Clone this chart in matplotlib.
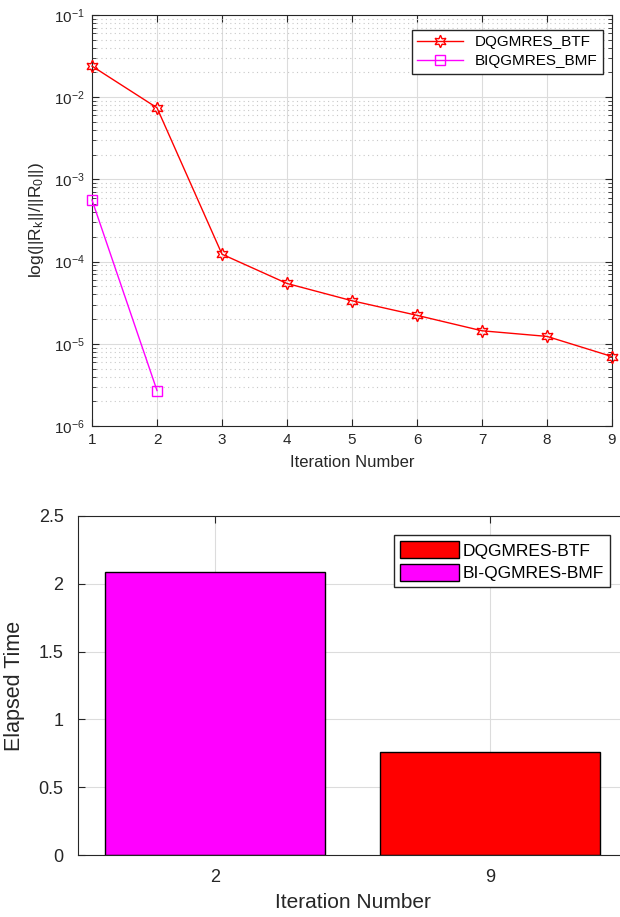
import numpy as np
import matplotlib.pyplot as plt
from matplotlib.ticker import LogLocator, NullFormatter

plt.rcParams['font.family'] = ['Liberation Sans', 'DejaVu Sans']
plt.rcParams['mathtext.fontset'] = 'custom'
plt.rcParams['mathtext.rm'] = 'Liberation Sans'
plt.rcParams['mathtext.it'] = 'Liberation Sans'
plt.rcParams['mathtext.default'] = 'regular'

# residual history
iters_dq = [1, 2, 3, 4, 5, 6, 7, 8, 9]
res_dq = [0.0239, 0.00743, 1.23e-4, 5.42e-5, 3.34e-5, 2.22e-5, 1.44e-5, 1.23e-5, 7.0e-6]
iters_bi = [1, 2]
res_bi = [5.62e-4, 2.7e-6]

# elapsed time
bar_labels = ['2', '9']
bar_times = [2.09, 0.76]
bar_colors = ['#ff00ff', '#ff0000']

fig = plt.figure(figsize=(6.2, 9.17), dpi=100)
W, H = 620, 917
txt = '#262626'

# top plot
ax1 = fig.add_axes([92 / W, 1 - 426 / H, (612 - 92) / W, (426 - 15) / H])
ax1.plot(iters_dq, res_dq, color='red', lw=1, marker=(6, 1, 0), ms=9,
         mfc='none', mec='red', mew=1, label='DQGMRES_BTF', clip_on=False, zorder=3)
ax1.plot(iters_bi, res_bi, color='#ff00ff', lw=1, marker='s', ms=6.5,
         mfc='none', mec='#ff00ff', mew=1, label='BIQGMRES_BMF', clip_on=False, zorder=3)
ax1.set_yscale('log')
ax1.set_xlim(1, 9)
ax1.set_ylim(1e-6, 1e-1)
ax1.set_xticks(range(1, 10))
ax1.yaxis.set_major_locator(LogLocator(base=10, numticks=10))
ax1.yaxis.set_minor_locator(LogLocator(base=10, subs=np.arange(2, 10), numticks=20))
ax1.yaxis.set_minor_formatter(NullFormatter())
ax1.grid(True, which='major', color='#dcdcdc', lw=0.8)
ax1.grid(True, which='minor', axis='y', color='#c8c8c8', lw=0.8, ls=(0, (1, 3)))
ax1.set_axisbelow(True)
ax1.tick_params(which='both', direction='in', top=True, right=True,
                labelsize=11, colors=txt)
ax1.tick_params(which='major', length=5, pad=5)
ax1.tick_params(which='minor', length=3)
for s in ax1.spines.values():
    s.set_color(txt)
ax1.set_xlabel('Iteration Number', fontsize=12, color=txt, labelpad=6)
ax1.set_ylabel(r'log(||R$_k$||/||R$_0$||)', fontsize=12.5, color=txt, labelpad=6)
ax1.legend(loc='upper right', bbox_to_anchor=(0.983, 0.964), borderaxespad=0,
           fontsize=11, fancybox=False, framealpha=1, edgecolor=txt,
           handlelength=3, borderpad=0.35, labelspacing=0.35)

# bottom plot
x = np.arange(1, len(bar_labels) + 1)
ax2 = fig.add_axes([77.5 / W, 1 - 855 / H, (627.5 - 77.5) / W, (855 - 516) / H])
bars = ax2.bar(x, bar_times, width=0.8, color=bar_colors, edgecolor='black', lw=1)
ax2.set_xlim(0.5, 2.5)
ax2.set_ylim(0, 2.5)
ax2.set_xticks(x)
ax2.set_xticklabels(bar_labels)
ax2.set_yticks(np.arange(0, 2.51, 0.5))
ax2.set_yticklabels(['0', '0.5', '1', '1.5', '2', '2.5'])
ax2.grid(True, color='#dcdcdc', lw=0.8)
ax2.set_axisbelow(True)
ax2.tick_params(direction='in', top=True, right=True, labelsize=13,
                colors=txt, length=5, pad=10)
for s in ax2.spines.values():
    s.set_color(txt)
ax2.set_xlabel('Iteration Number', fontsize=15, color=txt, labelpad=5)
ax2.set_ylabel('Elapsed Time', fontsize=15.5, color=txt, labelpad=10)
ax2.legend([bars[1], bars[0]], ['DQGMRES-BTF', 'BI-QGMRES-BMF'],
           loc='upper right', bbox_to_anchor=(0.968, 0.943), borderaxespad=0,
           fontsize=12.5, fancybox=False, framealpha=1, edgecolor=txt,
           handlelength=3.4, handleheight=1.1, borderpad=0.35, labelspacing=0.3,
           handletextpad=0.2)

fig.savefig('out.png', dpi=100)
